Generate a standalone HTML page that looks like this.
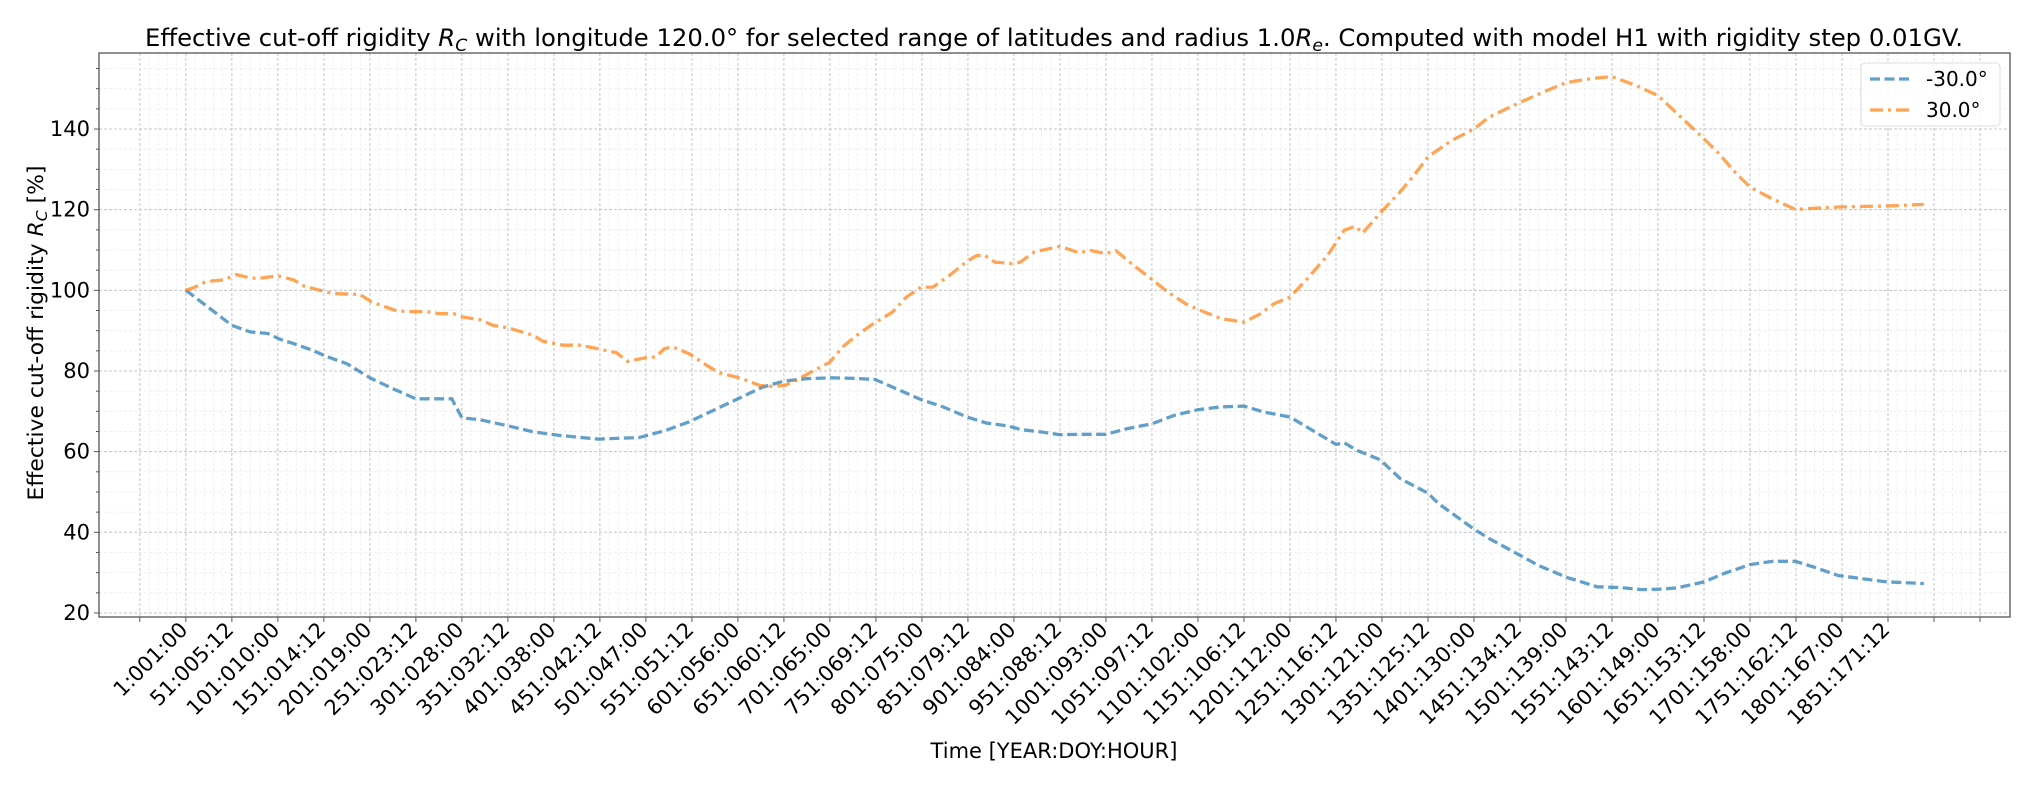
<!DOCTYPE html>
<html><head><meta charset="utf-8">
<style>
html,body{margin:0;padding:0;background:#fff;}
svg{display:block;font-family:"DejaVu Sans","Liberation Sans",sans-serif;}
</style></head>
<body>
<svg id="chart" width="2035" height="785" viewBox="0 0 2035 785" xmlns="http://www.w3.org/2000/svg">
<rect x="0" y="0" width="2035" height="785" fill="#fff"/>
<g id="grid"></g>
<g id="series"></g>
<rect x="99" y="53" width="1911" height="564" fill="none" stroke="#555" stroke-width="1.3"/>
<g id="axes"></g>
<text x="1054" y="46" font-size="24" text-anchor="middle" textLength="1818" lengthAdjust="spacingAndGlyphs" fill="#000">Effective cut-off rigidity <tspan font-style="italic">R</tspan><tspan font-style="italic" font-size="17" dy="5">C</tspan><tspan dy="-5"> with longitude 120.0° for selected range of latitudes and radius 1.0</tspan><tspan font-style="italic">R</tspan><tspan font-style="italic" font-size="17" dy="5">e</tspan><tspan dy="-5">. Computed with model H1 with rigidity step 0.01GV.</tspan></text>
<text x="1054" y="758" font-size="21" text-anchor="middle" fill="#000">Time [YEAR:DOY:HOUR]</text>
<text transform="translate(43,333) rotate(-90)" font-size="21" text-anchor="middle" textLength="335" lengthAdjust="spacingAndGlyphs" fill="#000">Effective cut-off rigidity <tspan font-style="italic">R</tspan><tspan font-style="italic" font-size="15" dy="4">C</tspan><tspan dy="-4"> [%]</tspan></text>
<g>
<rect x="1861" y="63" width="139" height="63" rx="4" fill="#fff" fill-opacity="0.85" stroke="#ddd" stroke-width="1"/>
<line x1="1870" y1="79" x2="1910" y2="79" stroke="#1f77b4" stroke-opacity="0.7" stroke-width="3.3" stroke-dasharray="10,4.5"/>
<text x="1926" y="86" font-size="20" fill="#000">-30.0°</text>
<line x1="1870" y1="110" x2="1910" y2="110" stroke="#ff7f0e" stroke-opacity="0.7" stroke-width="3.3" stroke-dasharray="13,5,3,5"/>
<text x="1926" y="117" font-size="20" fill="#000">30.0°</text>
</g>
</svg>
<script>
const xTickLabels = ["1:001:00","51:005:12","101:010:00","151:014:12","201:019:00","251:023:12","301:028:00","351:032:12","401:038:00","451:042:12","501:047:00","551:051:12","601:056:00","651:060:12","701:065:00","751:069:12","801:075:00","851:079:12","901:084:00","951:088:12","1001:093:00","1051:097:12","1101:102:00","1151:106:12","1201:112:00","1251:116:12","1301:121:00","1351:125:12","1401:130:00","1451:134:12","1501:139:00","1551:143:12","1601:149:00","1651:153:12","1701:158:00","1751:162:12","1801:167:00","1851:171:12"];
const yTicks = [20,40,60,80,100,120,140];
const southIdx = [0,26,50,70,89,102,117,138,153,175,200,225,250,289,300,320,350,378,407,448,493,522,547,573,600,627,650,674,700,725,749,772,799,823,849,870,895,907,929,950,972,1000,1023,1050,1074,1100,1125,1150,1172,1200,1223,1250,1259,1273,1298,1320,1350,1361,1400,1417,1450,1470,1500,1534,1560,1582,1600,1620,1650,1672,1700,1725,1749,1769,1796,1822,1849,1889];
const southVal = [100,95.5,91.3,89.7,89.3,87.9,86.8,85.1,83.6,81.8,78.3,75.6,73.1,73.1,68.4,67.9,66.4,64.9,64.0,63.1,63.5,65.3,67.4,70.2,73.1,76.0,77.5,78.1,78.3,78.2,77.9,75.6,72.9,71.1,68.6,67.1,66.3,65.5,64.9,64.2,64.3,64.3,65.7,66.9,69.0,70.4,71.1,71.3,69.8,68.6,65.5,61.8,62.2,60.3,58.0,53.3,49.7,47.2,40.8,38.4,34.3,31.8,28.9,26.5,26.3,25.8,25.9,26.2,27.7,29.8,32.0,32.8,32.8,31.4,29.3,28.5,27.7,27.3];
const northIdx = [0,10,22,41,55,71,84,100,117,129,146,160,189,202,229,247,262,276,291,301,320,334,350,367,378,388,410,428,448,468,480,500,511,520,529,547,566,580,598,609,624,636,651,663,700,714,729,747,768,783,799,812,830,848,859,868,879,900,907,922,950,971,983,1000,1011,1030,1049,1067,1088,1103,1125,1150,1168,1183,1200,1219,1241,1259,1271,1279,1299,1320,1335,1350,1376,1400,1417,1450,1477,1500,1530,1550,1575,1600,1620,1642,1665,1683,1700,1725,1749,1799,1849,1889];
const northVal = [100,100.8,102.2,102.6,103.9,103.0,103.1,103.6,102.6,101.0,100,99.2,99.0,97.1,94.9,94.7,94.7,94.2,94.2,93.4,92.7,91.3,90.7,89.6,88.8,87.4,86.4,86.4,85.5,84.5,82.4,83.3,83.5,85.5,86.0,84.3,81.4,79.5,78.5,77.7,76.4,76.2,76.4,77.7,82.2,86.0,88.8,91.7,94.6,98.3,100.8,100.8,103.7,107.0,108.6,108.7,107.0,106.6,107.0,109.5,110.9,109.3,109.9,109.1,109.8,106.2,102.9,99.6,96.5,95.0,93.0,92.1,94.2,96.7,98.3,102.9,108.7,114.9,115.9,114.2,119.4,124.5,128.6,133.1,137.2,140,143.0,146.6,149.3,151.5,152.6,153.0,150.9,148.3,144.0,139.3,134.2,129.5,125.6,122.6,120.1,120.7,120.9,121.3];

const NS="http://www.w3.org/2000/svg";
const L=99,R=2010,T=53,B=617;
const xMin=-94.4,xMax=1982.6,yMin=19.0,yMax=158.85;
function xs(i){return L+(i-xMin)/(xMax-xMin)*(R-L);}
function ys(v){return B-(v-yMin)/(yMax-yMin)*(B-T);}
function mk(tag,attrs,parent){const e=document.createElementNS(NS,tag);for(const k in attrs)e.setAttribute(k,attrs[k]);parent.appendChild(e);return e;}
const grid=document.getElementById('grid'),axes=document.getElementById('axes'),series=document.getElementById('series');
// minor x grid
for(let i=-50;i<=1950;i+=10){const x=xs(i);if(x<L||x>R)continue;
 const ln=mk('line',{x1:x,x2:x,y1:T,y2:B,stroke:(i%50===0)?'#c4c4c4':'#ececec','stroke-width':(i%50===0)?1:0.8,'stroke-dasharray':'3,2'},grid);
 
 
 if(i%50===0){const tk=mk('line',{x1:x,x2:x,y1:B,y2:B+5,stroke:'#555','stroke-width':1},axes);
  
  }
}
for(let v=20;v<=155;v+=5){const y=ys(v);
 const major=(v%20===0);
 const ln=mk('line',{x1:L,x2:R,y1:y,y2:y,stroke:major?'#c4c4c4':'#ececec','stroke-width':major?1:0.8,'stroke-dasharray':'3,2'},grid);
 
 
 const tk=mk('line',{x1:L-(major?5:3),x2:L,y1:y,y2:y,stroke:'#555','stroke-width':1},axes);
 
 
}
yTicks.forEach(v=>{const t=mk('text',{x:L-9,y:ys(v)+7,'font-size':21,'text-anchor':'end',fill:'#000'},axes);t.textContent=String(v);
 
 });
xTickLabels.forEach((lab,k)=>{const x=xs(k*50);
 const t=mk('text',{transform:`translate(${x+3},${B+14}) rotate(-45)`,'font-size':21,'text-anchor':'end',fill:'#000'},axes);
 t.textContent=lab;
 
 });
function path(idx,val){return idx.map((i,k)=>(k?'L':'M')+xs(i).toFixed(1)+','+ys(val[k]).toFixed(1)).join(' ');}
const ps=mk('path',{d:path(southIdx,southVal),fill:'none',stroke:'#1f77b4','stroke-opacity':0.7,'stroke-width':3.3,'stroke-dasharray':'10,4.5'},series);


const pn=mk('path',{d:path(northIdx,northVal),fill:'none',stroke:'#ff7f0e','stroke-opacity':0.7,'stroke-width':3.3,'stroke-dasharray':'13,5,3,5'},series);


</script>
</body></html>
